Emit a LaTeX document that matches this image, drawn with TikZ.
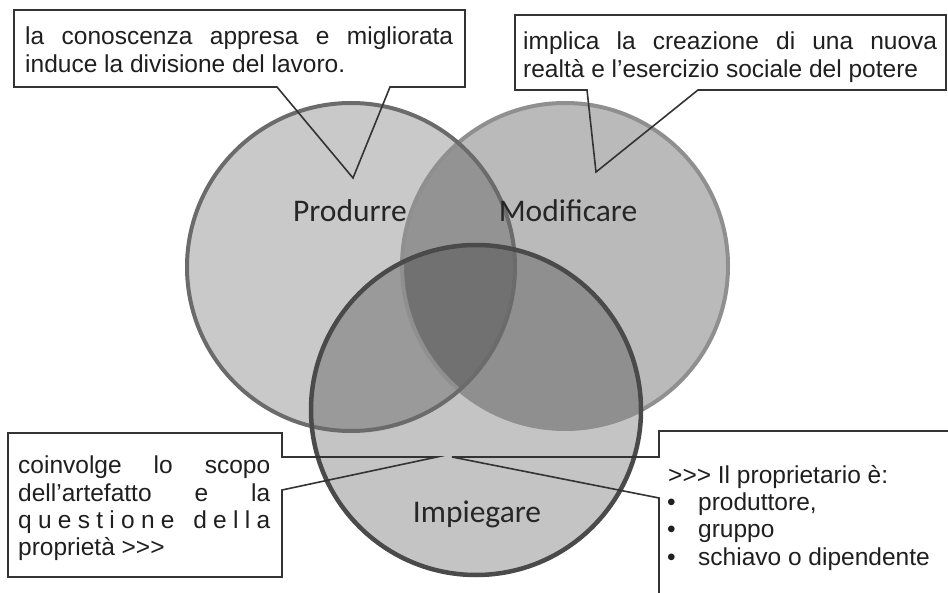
\documentclass[tikz,border=0pt]{standalone}
\usepackage{fontspec}
\setmainfont{Liberation Sans}[Ligatures=TeXOff]
\newfontfamily\lblfont{Carlito}
\begin{document}
\begin{tikzpicture}[x=1pt,y=-1pt,
  txt/.style={inner sep=0pt, anchor=base west, font=\fontsize{24.5}{28}\selectfont, text=black!88},
  lbl/.style={inner sep=0pt, anchor=base, font=\lblfont\fontsize{31.5}{36}\selectfont, text=black!85},
  disc/.style={circle, inner sep=0pt, fill=black},
  callout/.style={draw=black!80, line width=1.6pt, line join=miter},
]
\useasboundingbox (0,0) rectangle (948,593);
\clip (0,0) rectangle (948,593);
% circles: fills
\node[disc, minimum size=328pt, fill opacity=0.21] (prod) at (351,267) {};
\node[disc, minimum size=326pt, fill opacity=0.27] (modi) at (565,266) {};
\node[disc, minimum size=330pt, fill opacity=0.23] (impi) at (476,410) {};
% circles: borders
\draw[black!44, line width=4pt] (modi.center) circle[radius=163pt];
\draw[black!58, line width=4pt] (prod.center) circle[radius=164pt];
\draw[black!71, line width=4.5pt] (impi.center) circle[radius=165pt];
% labels
\node[lbl] (lp) at (350,222) {Produrre};
\node[lbl] (lm) at (568,222) {Modificare};
\node[lbl] (li) at (477,522) {Impiegare};
% callout 1
\coordinate (t1) at (353,178);
\fill[white] (14,10) rectangle (465,87);
\draw[callout] (277,87) -- (14,87) -- (14,10) -- (465,10) -- (465,87) -- (390,87) -- (t1) -- cycle;
\node[txt] (b1a) at (25,45) {\makebox[428pt][s]{la conoscenza appresa e migliorata}};
\node[txt] (b1b) at (25,73) {induce la divisione del lavoro.};
% callout 2
\coordinate (t2) at (596,172);
\fill[white] (515,15) rectangle (946,90);
\draw[callout] (587,90) -- (515,90) -- (515,15) -- (946,15) -- (946,90) -- (698,90) -- (t2) -- cycle;
\node[txt] (b2a) at (523,50) {\makebox[414pt][s]{implica la creazione di una nuova}};
\node[txt] (b2b) at (523,78) {realtà e l’esercizio sociale del potere};
% callout 3
\coordinate (t3) at (437,457);
\fill[white] (8,433) rectangle (282,577);
\draw[callout] (282,490) -- (282,577) -- (8,577) -- (8,433) -- (282,433) -- (282,457) -- (t3) -- cycle;
\node[txt] (b3a) at (18,473) {\makebox[252pt][s]{coinvolge lo scopo}};
\node[txt] (b3b) at (18,501) {\makebox[252pt][s]{dell’artefatto e la}};
\node[txt] (b3c) at (18,528) {\makebox[252pt][s]{q\hfill u\hfill e\hfill s\hfill t\hfill i\hfill o\hfill n\hfill e\hfill\hfill\hfill d\hfill e\hfill l\hfill l\hfill a}};
\node[txt] (b3d) at (18,555) {proprietà >>>};
% callout 4
\coordinate (t4) at (452,457);
\fill[white] (659,431) rectangle (960,610);
\draw[callout] (659,457) -- (659,431) -- (960,431) -- (960,610) -- (659,610) -- (659,498) -- (t4) -- cycle;
\node[txt] (b4a) at (668,483) {>>> Il proprietario è:};
\node[txt] (u1) at (667,510) {•};
\node[txt] (b4b) at (698,510) {produttore,};
\node[txt] (u2) at (667,537) {•};
\node[txt] (b4c) at (698,537) {gruppo};
\node[txt] (u3) at (667,565) {•};
\node[txt] (b4d) at (698,565) {schiavo o dipendente};
\end{tikzpicture}
\end{document}
